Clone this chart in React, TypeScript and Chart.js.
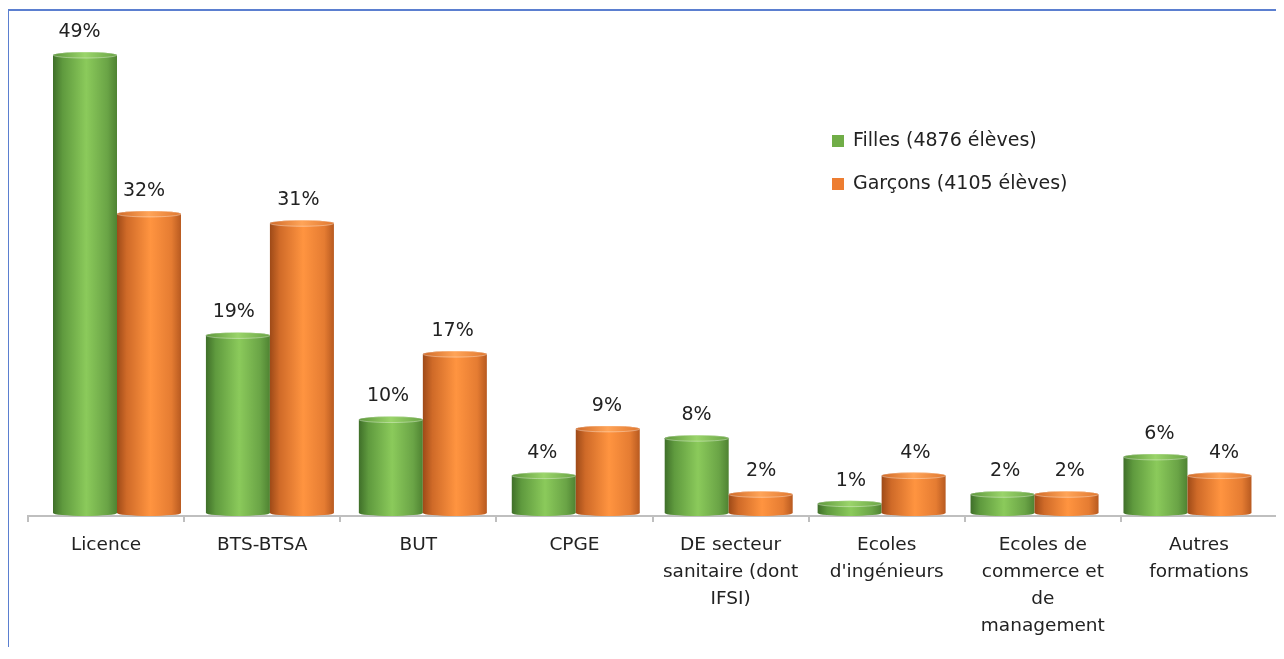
import React, { useEffect, useRef } from "react";
import { Chart, registerables } from "chart.js";

Chart.register(...registerables);

const categories: (string | string[])[] = [
  "Licence",
  "BTS-BTSA",
  "BUT",
  "CPGE",
  ["DE secteur", "sanitaire (dont", "IFSI)"],
  ["Ecoles", "d'ingénieurs"],
  ["Ecoles de", "commerce et", "de", "management"],
  ["Autres", "formations"],
];
const fillesValues = [49, 19, 10, 4, 8, 1, 2, 6];
const garconsValues = [32, 31, 17, 9, 2, 4, 2, 4];
const seriesNames = ["Filles (4876 élèves)", "Garçons (4105 élèves)"];

const FONT = "'DejaVu Sans', 'Open Sans', sans-serif";
const TEXT = "#222222";

const palettes = [
  { legend: "#70ad47", stops: ["#3f6f29", "#5f9a3e", "#8bca5b", "#6aa446", "#4f8332"], top: ["#5e973c", "#9ad46a", "#6aa446"] },
  { legend: "#ed7d31", stops: ["#9e4a18", "#cf6a28", "#ff9440", "#e57c32", "#b85a20"], top: ["#d06a28", "#ffa458", "#e07830"] },
];

// perspective: bar groups sit on a slightly narrower floor than the axis
const PERSPECTIVE = 0.9795;

const cylinderPlugin = {
  id: "cylinders",
  afterDatasetsDraw(chart: any) {
    const ctx = chart.ctx as CanvasRenderingContext2D;
    const ca = chart.chartArea;
    const catW = ca.width / chart.data.labels.length;
    const c0 = ca.left + catW / 2;
    const m0 = ca.left + 89;
    chart.data.datasets.forEach((ds: any, di: number) => {
      const meta = chart.getDatasetMeta(di);
      const pal = palettes[di];
      meta.data.forEach((bar: any, i: number) => {
        const p = bar.getProps(["x", "y", "base", "width"], true);
        const x = m0 + (p.x - c0) * PERSPECTIVE;
        const width = p.width * PERSPECTIVE;
        const shift = 3;
        const ry = 3;
        const rx = width / 2;
        const left = x - rx;
        const right = x + rx;
        const topY = p.y - shift;
        const botY = p.base - shift;
        const g = ctx.createLinearGradient(left, 0, right, 0);
        g.addColorStop(0, pal.stops[0]);
        g.addColorStop(0.15, pal.stops[1]);
        g.addColorStop(0.52, pal.stops[2]);
        g.addColorStop(0.85, pal.stops[3]);
        g.addColorStop(1, pal.stops[4]);
        ctx.save();
        ctx.beginPath();
        ctx.moveTo(left, topY);
        ctx.lineTo(left, botY);
        ctx.ellipse(x, botY, rx, ry, 0, Math.PI, 0, true);
        ctx.lineTo(right, topY);
        ctx.ellipse(x, topY, rx, ry, 0, 0, Math.PI, true);
        ctx.closePath();
        ctx.fillStyle = g;
        ctx.fill();
        const gt = ctx.createLinearGradient(left, 0, right, 0);
        gt.addColorStop(0, pal.top[0]);
        gt.addColorStop(0.5, pal.top[1]);
        gt.addColorStop(1, pal.top[2]);
        ctx.beginPath();
        ctx.ellipse(x, topY, rx, ry, 0, 0, Math.PI * 2);
        ctx.fillStyle = gt;
        ctx.fill();
        ctx.strokeStyle = "rgba(255,255,255,0.35)";
        ctx.lineWidth = 1;
        ctx.stroke();
        const t = (x - ca.left) / ca.width;
        const dx = -5.5 + (10 * (t - 0.046)) / 0.908;
        ctx.fillStyle = TEXT;
        ctx.font = `19px ${FONT}`;
        ctx.textAlign = "center";
        ctx.textBaseline = "middle";
        ctx.fillText(`${ds.data[i]}%`, x + dx, topY - 23);
        ctx.restore();
      });
    });
  },
  afterDraw(chart: any) {
    const ctx = chart.ctx as CanvasRenderingContext2D;
    ctx.save();
    ctx.font = `19px ${FONT}`;
    ctx.textAlign = "left";
    ctx.textBaseline = "middle";
    const rows = [130, 173];
    seriesNames.forEach((name, i) => {
      ctx.fillStyle = palettes[i].legend;
      ctx.fillRect(823, rows[i] - 6, 12, 12);
      ctx.fillStyle = TEXT;
      ctx.fillText(name, 844, rows[i]);
    });
    ctx.restore();
  },
};

export default function App() {
  const ref = useRef<HTMLCanvasElement | null>(null);
  useEffect(() => {
    if (!ref.current) return;
    const chart = new Chart(ref.current, {
      type: "bar",
      data: {
        labels: categories,
        datasets: [
          { label: seriesNames[0], data: fillesValues, backgroundColor: "rgba(0,0,0,0)", categoryPercentage: 0.837, barPercentage: 1 },
          { label: seriesNames[1], data: garconsValues, backgroundColor: "rgba(0,0,0,0)", categoryPercentage: 0.837, barPercentage: 1 },
        ],
      },
      options: {
        responsive: false,
        animation: false,
        layout: { padding: { left: 19, right: 6, top: 19, bottom: 0 } },
        plugins: { legend: { display: false }, tooltip: { enabled: false } },
        scales: {
          x: {
            offset: true,
            afterFit: (scale: any) => {
              scale.height = 131;
            },
            grid: {
              display: true,
              drawOnChartArea: false,
              drawTicks: true,
              tickLength: 6,
              color: "#bfbfbf",
              lineWidth: 2,
              offset: true,
            },
            border: { display: true, color: "#bfbfbf", width: 2 },
            ticks: {
              color: TEXT,
              padding: 10,
              maxRotation: 0,
              autoSkip: false,
              font: { family: FONT, size: 18.5, lineHeight: 27 / 18.5 },
            },
          },
          y: {
            display: false,
            min: 0,
            max: 52,
          },
        },
      },
      plugins: [cylinderPlugin],
    });
    return () => chart.destroy();
  }, []);
  return (
    <div style={{ paddingTop: 1, marginLeft: -1, width: 1276, overflow: "hidden" }}>
      <div style={{ borderTop: "2px solid #5b7fd0", borderLeft: "2px solid #5b7fd0" }}>
        <canvas ref={ref} width={1274} height={636} style={{ display: "block" }} />
      </div>
    </div>
  );
}
